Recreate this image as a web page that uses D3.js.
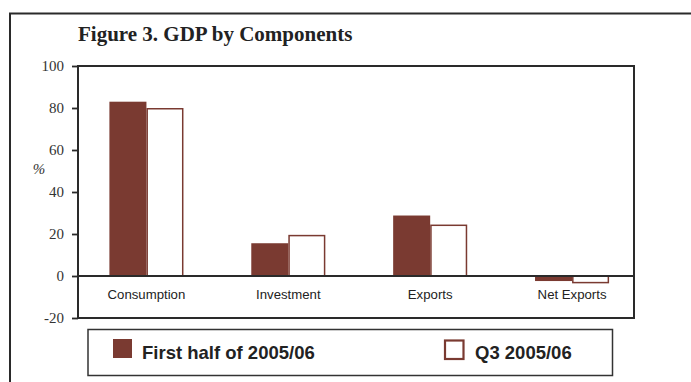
<!DOCTYPE html>
<html><head><meta charset="utf-8">
<script src="https://cdn.jsdelivr.net/npm/d3@7"></script>
<style>body{margin:0;background:#fff}svg{display:block}</style>
</head><body><svg id="c" width="691" height="382"></svg>
<script>
const categories = ["Consumption", "Investment", "Exports", "Net Exports"];
const series = ["First half of 2005/06", "Q3 2005/06"];
const firstHalf = [83, 15.6, 28.8, -2.4];
const q3 = [80, 19.6, 24.5, -3.5];
const yTicks = [-20, 0, 20, 40, 60, 80, 100];
const title = "Figure 3. GDP by Components";
const yLabel = "%";

const color = "#7a3a31";
const svg = d3.select("#c");
const L = 78, R = 634, T = 66, B = 318;

// outer frame
svg.append("path").attr("d", `M10,382 V13.5 H691`).attr("fill", "none").attr("stroke", "#2a2a2a").attr("stroke-width", 2);

svg.append("text").attr("x", 78).attr("y", 41).text(title)
  .style("font-family", "Liberation Serif, Times New Roman, serif").style("font-weight", "bold")
  .style("font-size", "21px").attr("fill", "#222");

const x = d3.scaleBand().domain(categories).range([75.5, 643]).paddingInner(0.478).paddingOuter(0.239);
const xs = d3.scaleBand().domain(series).range([0, x.bandwidth()]);
const y = d3.scaleLinear().domain([-20, 100]).range([B, T]);

const data = categories.map((c, i) => ({c, vals: [firstHalf[i], q3[i]]}));

// bars
const g = svg.append("g");
data.forEach(d => {
  d.vals.forEach((v, j) => {
    const x0 = x(d.c) + xs(series[j]);
    const y0 = y(Math.max(0, v)), y1 = y(Math.min(0, v));
    if (j === 0) {
      g.append("rect").attr("x", x0).attr("y", y0).attr("width", xs.bandwidth()).attr("height", y1 - y0)
        .attr("fill", color);
    } else {
      g.append("rect").attr("x", x0 + 0.75).attr("y", y0 + (v >= 0 ? 0.75 : 0)).attr("width", xs.bandwidth() - 1.5)
        .attr("height", Math.max(0, y1 - y0 - 0.75)).attr("fill", "#fff").attr("stroke", color).attr("stroke-width", 1.5);
    }
  });
});

// plot frame
svg.append("rect").attr("x", L).attr("y", T).attr("width", R - L).attr("height", B - T)
  .attr("fill", "none").attr("stroke", "#2a2a2a").attr("stroke-width", 2);
// zero line
svg.append("line").attr("x1", L).attr("x2", R).attr("y1", y(0)).attr("y2", y(0))
  .attr("stroke", "#2a2a2a").attr("stroke-width", 1.8);

// y axis
const ya = svg.append("g").attr("transform", `translate(${L},0)`)
  .call(d3.axisLeft(y).tickValues(yTicks).tickSize(6).tickPadding(8).tickFormat(d => String(d)));
ya.attr("font-size", null).attr("font-family", null);
ya.select(".domain").remove();
ya.selectAll(".tick line").attr("stroke", "#2a2a2a").attr("stroke-width", 1.8);
ya.selectAll(".tick text").style("font-family", "Liberation Serif, Times New Roman, serif")
  .style("font-size", "15px").attr("fill", "#333");

svg.append("text").attr("x", 39).attr("y", 174).attr("text-anchor", "middle").text(yLabel)
  .style("font-family", "Liberation Serif, serif").style("font-style", "italic").style("font-size", "15px").attr("fill", "#333");

// category labels
svg.append("g").selectAll("text").data(categories).join("text")
  .attr("x", d => x(d) + x.bandwidth() / 2).attr("y", 299).attr("text-anchor", "middle").text(d => d)
  .style("font-family", "Liberation Sans, Arial, sans-serif").style("font-size", "13.2px").attr("fill", "#222");

// legend
svg.append("rect").attr("x", 88).attr("y", 329.5).attr("width", 524.5).attr("height", 46)
  .attr("fill", "#fff").attr("stroke", "#333").attr("stroke-width", 1.5);
const lg = [{x: 113, tx: 142}, {x: 444, tx: 475}];
series.forEach((s, j) => {
  if (j === 0) {
    svg.append("rect").attr("x", lg[j].x).attr("y", 339).attr("width", 19).attr("height", 19).attr("fill", color);
  } else {
    svg.append("rect").attr("x", lg[j].x + 1).attr("y", 340.5).attr("width", 18.5).attr("height", 18.5)
      .attr("fill", "#fff").attr("stroke", color).attr("stroke-width", 2.2);
  }
  svg.append("text").attr("x", lg[j].tx).attr("y", 359).text(s)
    .style("font-family", "Liberation Sans, Arial, sans-serif").style("font-weight", "bold")
    .style("font-size", "18.5px").attr("fill", "#222");
});
</script></body></html>
